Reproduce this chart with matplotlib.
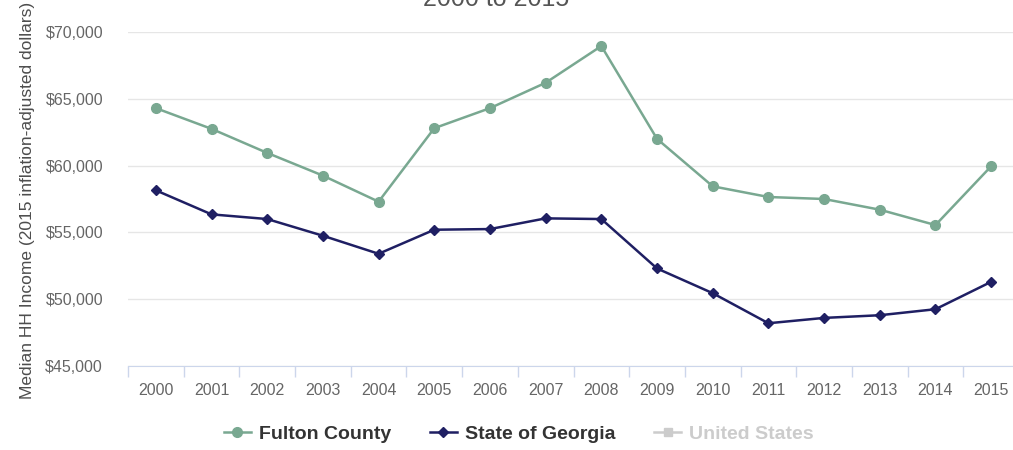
import matplotlib.pyplot as plt
from matplotlib.lines import Line2D
from matplotlib.ticker import FuncFormatter, FixedLocator

plt.rcParams['font.family'] = ['Liberation Sans', 'DejaVu Sans']

years = list(range(2000, 2016))
fulton = [64300, 62750, 60950, 59250, 57300, 62800, 64300, 66200,
          68950, 62000, 58450, 57650, 57500, 56700, 55550, 59950]
georgia = [58150, 56350, 56000, 54750, 53400, 55200, 55250, 56050,
           56000, 52300, 50450, 48200, 48600, 48800, 49250, 51300]

green = '#79a891'
navy = '#1f1f63'
axis_col = '#ccd6eb'

fig = plt.figure(figsize=(10.13, 4.5), dpi=100)
ax = fig.add_axes([128 / 1013, 1 - 366 / 450, 891 / 1013, 334 / 450])

x = list(range(len(years)))
ax.plot(x, fulton, color=green, lw=1.8, marker='o', ms=7, zorder=3)
ax.plot(x, georgia, color=navy, lw=1.8, marker='D', ms=5, zorder=3)

ax.set_xlim(-0.5, len(years) - 0.5)
ax.set_ylim(45000, 70000)
ax.set_yticks(range(45000, 70001, 5000))
ax.yaxis.set_major_formatter(FuncFormatter(lambda v, p: '${:,.0f}'.format(v)))
ax.grid(axis='y', color='#e6e6e6', lw=1)
ax.set_axisbelow(True)

# category axis: labels in the middle, tick marks between categories
ax.set_xticks(x)
ax.set_xticklabels([str(y) for y in years])
ax.xaxis.set_minor_locator(FixedLocator([i - 0.5 for i in range(len(years) + 1)]))
ax.tick_params(axis='x', which='major', length=0, pad=12, labelsize=11.5, labelcolor='#666666')
ax.tick_params(axis='x', which='minor', length=8, color=axis_col, width=1)
ax.tick_params(axis='y', length=0, pad=18, labelsize=11.5, labelcolor='#666666')

for s in ['top', 'right', 'left']:
    ax.spines[s].set_visible(False)
ax.spines['bottom'].set_color(axis_col)

fig.text(28 / 1013, 1 - 200 / 450, 'Median HH Income (2015 inflation-adjusted dollars)',
         rotation=90, ha='center', va='center', fontsize=12.5, color='#4d4d4d')

# title, cut off at the top edge of the image as in the source
fig.text(0.49, 1 - 6 / 450, '2000 to 2015', ha='center', va='baseline',
         fontsize=18, color='#555555')

handles = [
    Line2D([], [], color=green, lw=1.8, marker='o', ms=7),
    Line2D([], [], color=navy, lw=1.8, marker='D', ms=5),
    Line2D([], [], color='#cccccc', lw=1.8, marker='s', ms=6),
]
leg = fig.legend(handles, ['Fulton County', 'State of Georgia', 'United States'],
                 loc='center', bbox_to_anchor=(0.512, 1 - 434 / 450), ncol=3,
                 frameon=False, handlelength=1.4, handletextpad=0.4, columnspacing=2.0,
                 prop={'weight': 'bold', 'size': 14})
for t, c in zip(leg.get_texts(), ['#333333', '#333333', '#cccccc']):
    t.set_color(c)

fig.savefig('out.png', dpi=100)
